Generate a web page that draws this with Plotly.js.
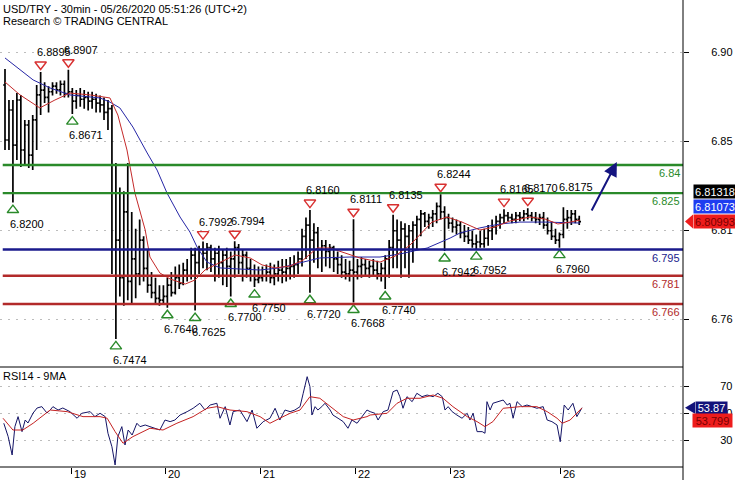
<!DOCTYPE html>
<html><head><meta charset="utf-8">
<script src="https://cdn.plot.ly/plotly-3.0.1.min.js"></script>
<style>html,body{margin:0;padding:0;background:#fff}#chart{width:735px;height:480px}</style>
</head><body><div id="chart"></div>
<script>
// ---------- DATA (hourly bars, index = bar position) ----------
const open=[6.8826,6.8533,6.8693,6.8506,6.8746,6.8480,6.8613,6.8453,6.8640,6.8773,
6.8799,6.8760,6.8790,6.8820,6.8800,6.8830,6.8780,6.8790,6.8740,6.8770,
6.8750,6.8760,6.8740,6.8750,6.8730,6.8720,6.8680,6.8700,6.7950,6.8000,
6.7800,6.8150,6.7780,6.7900,6.7820,6.8000,6.7850,6.7760,6.7720,6.7690,
6.7680,6.7700,6.7760,6.7720,6.7800,6.7770,6.7840,6.7810,6.7920,6.7880,
6.7950,6.7930,6.7960,6.7900,6.7930,6.7880,6.7920,6.7860,6.7900,6.7960,
6.7880,6.7920,6.7850,6.7810,6.7790,6.7800,6.7810,6.7830,6.7800,6.7820,
6.7840,6.7830,6.7850,6.7860,6.7870,6.7900,6.8020,6.8080,6.8000,6.8040,
6.7950,6.7970,6.7940,6.7960,6.7900,6.7870,6.7830,6.7820,6.7840,6.7830,
6.7860,6.7870,6.7850,6.7860,6.7840,6.7820,6.7850,6.7900,6.7960,6.8050,
6.8000,6.8060,6.8020,6.8050,6.8080,6.8110,6.8140,6.8100,6.8120,6.8140,
6.8180,6.8150,6.8120,6.8090,6.8070,6.8080,6.8040,6.8020,6.8000,6.7980,
6.7990,6.7980,6.8010,6.8050,6.8070,6.8100,6.8120,6.8130,6.8120,6.8110,
6.8130,6.8120,6.8140,6.8130,6.8120,6.8110,6.8120,6.8080,6.8050,6.8020,
6.8000,6.8030,6.8110,6.8120,6.8140,6.8110];
const high=[6.8911,6.8746,6.8746,6.8783,6.8773,6.8640,6.8640,6.8666,6.8826,6.8895,
6.8840,6.8820,6.8840,6.8840,6.8850,6.8850,6.8907,6.8810,6.8800,6.8810,
6.8800,6.8790,6.8790,6.8780,6.8770,6.8760,6.8746,6.8720,6.8410,6.8280,
6.8260,6.8410,6.8150,6.8060,6.8110,6.8020,6.7950,6.7830,6.7800,6.7760,
6.7760,6.7800,6.7830,6.7860,6.7870,6.7880,6.7900,6.7960,6.7960,6.7970,
6.7992,6.7985,6.7975,6.7960,6.7970,6.7950,6.7960,6.7940,6.7994,6.7980,
6.7950,6.7940,6.7900,6.7870,6.7860,6.7860,6.7870,6.7880,6.7870,6.7890,
6.7900,6.7900,6.7910,6.7920,6.7940,6.8060,6.8120,6.8160,6.8090,6.8070,
6.8000,6.8000,6.7980,6.7970,6.7940,6.7920,6.7900,6.7890,6.8111,6.7900,
6.7910,6.7900,6.7890,6.7900,6.7890,6.7880,6.7920,6.8000,6.8135,6.8110,
6.8100,6.8090,6.8080,6.8100,6.8130,6.8160,6.8150,6.8140,6.8160,6.8200,
6.8244,6.8180,6.8140,6.8120,6.8110,6.8100,6.8080,6.8070,6.8050,6.8030,
6.8050,6.8060,6.8080,6.8110,6.8130,6.8140,6.8165,6.8150,6.8140,6.8150,
6.8150,6.8160,6.8170,6.8150,6.8150,6.8140,6.8150,6.8120,6.8100,6.8060,
6.8040,6.8175,6.8160,6.8160,6.8160,6.8130];
const low=[6.8480,6.8480,6.8200,6.8427,6.8389,6.8400,6.8384,6.8373,6.8480,6.8666,
6.8730,6.8680,6.8770,6.8780,6.8770,6.8760,6.8760,6.8671,6.8700,6.8710,
6.8700,6.8690,6.8700,6.8680,6.8680,6.8640,6.8586,6.7820,6.7474,6.7700,
6.7650,6.7680,6.7660,6.7690,6.7760,6.7780,6.7720,6.7690,6.7660,6.7650,
6.7660,6.7640,6.7700,6.7710,6.7740,6.7760,6.7780,6.7790,6.7625,6.7820,
6.7850,6.7840,6.7830,6.7780,6.7800,6.7760,6.7750,6.7700,6.7800,6.7820,
6.7780,6.7800,6.7780,6.7750,6.7770,6.7780,6.7780,6.7770,6.7760,6.7780,
6.7770,6.7780,6.7790,6.7800,6.7820,6.7860,6.7900,6.7720,6.7880,6.7850,
6.7830,6.7860,6.7850,6.7830,6.7820,6.7800,6.7790,6.7780,6.7668,6.7790,
6.7800,6.7810,6.7800,6.7810,6.7790,6.7780,6.7740,6.7800,6.7850,6.7850,
6.7800,6.7850,6.7800,6.7880,6.7950,6.8020,6.8070,6.8060,6.8070,6.8090,
6.8110,6.7942,6.8060,6.8040,6.8030,6.8010,6.7990,6.7980,6.7960,6.7952,
6.7960,6.7960,6.7970,6.8000,6.8030,6.8060,6.8090,6.8100,6.8090,6.8090,
6.8100,6.8100,6.8110,6.8100,6.8090,6.8080,6.8060,6.8030,6.8000,6.7980,
6.7960,6.8010,6.8060,6.8080,6.8090,6.8080];
const close=[6.8533,6.8693,6.8506,6.8746,6.8480,6.8613,6.8453,6.8640,6.8773,6.8799,
6.8760,6.8790,6.8820,6.8800,6.8830,6.8780,6.8790,6.8740,6.8770,6.8750,
6.8760,6.8740,6.8750,6.8730,6.8720,6.8680,6.8700,6.7950,6.8000,6.7800,
6.8150,6.7780,6.7900,6.7820,6.8000,6.7850,6.7760,6.7720,6.7690,6.7680,
6.7700,6.7760,6.7720,6.7800,6.7770,6.7840,6.7810,6.7920,6.7880,6.7950,
6.7930,6.7960,6.7900,6.7930,6.7880,6.7920,6.7860,6.7900,6.7960,6.7880,
6.7920,6.7850,6.7810,6.7790,6.7800,6.7810,6.7830,6.7800,6.7820,6.7840,
6.7830,6.7850,6.7860,6.7870,6.7900,6.8020,6.8080,6.8000,6.8040,6.7950,
6.7970,6.7940,6.7960,6.7900,6.7870,6.7830,6.7820,6.7840,6.7830,6.7860,
6.7870,6.7850,6.7860,6.7840,6.7820,6.7850,6.7900,6.7960,6.8050,6.8000,
6.8060,6.8020,6.8050,6.8080,6.8110,6.8140,6.8100,6.8120,6.8140,6.8180,
6.8150,6.8120,6.8090,6.8070,6.8080,6.8040,6.8020,6.8000,6.7980,6.7990,
6.7980,6.8010,6.8050,6.8070,6.8100,6.8120,6.8130,6.8120,6.8110,6.8130,
6.8120,6.8140,6.8130,6.8120,6.8110,6.8120,6.8080,6.8050,6.8020,6.8000,
6.8030,6.8110,6.8120,6.8140,6.8110,6.8099];

// moving averages on price
const redMaX=[0,3.8,8.8,12.6,16.4,21.5,26.5,28.5,30.8,32.8,35.4,36.6,39.1,41.7,45.5,48,50.5,54.3,58.1,61.9,64.9,68.2,72,75.3,78.8,82.1,85.9,89.6,94.7,98.5,102.3,104.8,107.8,111.6,115.4,119.9,123.7,127.5,132.6,136.4,139.6,142.7,145.2];
const redMaY=[6.8842,6.8773,6.8704,6.8746,6.8783,6.8773,6.8757,6.8666,6.8480,6.8251,6.8054,6.7910,6.7825,6.7793,6.7766,6.7788,6.7841,6.7883,6.7921,6.7905,6.7868,6.7852,6.7862,6.7894,6.7958,6.7958,6.7931,6.7905,6.7883,6.7915,6.7974,6.8027,6.8096,6.8123,6.8096,6.8054,6.8070,6.8102,6.8123,6.8112,6.8086,6.8096,6.8107];
const blueMaX=[0,7.1,11.4,16.4,24,26.5,29,32.3,35.9,38.4,40.9,44.2,46.7,48.5,51,54.3,59.3,64.4,69.4,74.5,79.5,87.1,94.7,99.7,104.8,106.6,112.4,114.9,119.9,125,130,136.4,145.2];
const blueMaY=[6.8970,6.8853,6.8810,6.8773,6.8757,6.8735,6.8704,6.8602,6.8464,6.8373,6.8251,6.8123,6.8043,6.7963,6.7883,6.7852,6.7846,6.7841,6.7852,6.7878,6.7905,6.7910,6.7910,6.7926,6.7947,6.7958,6.8011,6.8038,6.8065,6.8086,6.8096,6.8096,6.8091];

// RSI14 and its 9MA
const rsiX=[-0.3,0.8,1.8,2.5,3.3,4.3,5.1,5.8,7.1,8.1,9.3,10.6,11.4,12.1,13.4,14.6,16.4,18.2,19.4,21.5,22.7,24,25.3,26,27,27.8,28.5,29.5,30.3,31.1,32.1,33.3,34.1,35.4,36.6,37.9,39.1,40.4,41.7,42.9,44.2,46,47.5,49.2,50.5,51.8,53.5,54.3,55.6,56.8,57.6,59.3,61.1,62.4,63.6,65.2,66.9,68.2,69.4,70.7,72,73.2,74.5,75.3,76.3,77,77.5,78.3,79,80,80.8,82.1,82.8,84.1,85.4,86.6,87.6,88.9,90.2,91.4,92.2,93.4,94.2,95.5,96.7,98,99,99.7,100.5,101.5,102.8,104,105.3,106.6,108.1,109.3,110.4,111.1,111.9,112.9,114.1,115.4,116.7,117.4,118.2,119.2,120.5,121.2,121.7,122.5,123.2,124.5,125.8,126.8,127.5,128.3,129.3,130.6,131.8,133.1,134.3,135.9,136.9,138.1,139.4,140.2,140.9,141.2,142.2,143.4,144.4,145.7];
const rsiY=[42.4,32.5,18.9,39.9,47.3,36.2,44.8,42.6,50,53.7,54.7,50,52.2,54.7,52.2,53.7,51,46.1,49.8,51,47.3,49.8,47.3,35,25,11.5,32.5,39.9,26.3,37.4,33.7,42.4,39.9,41.1,39.9,38.7,37.4,44.8,43.6,44.8,48.5,51,53.5,57.2,52.2,55.9,57.2,46.1,54.7,41.1,51,52.2,43.6,52.2,38.7,43.6,46.1,53.5,44.8,52.2,51,52.2,54.7,64.6,76.9,69.5,48.5,54.7,52.2,54.7,57.2,52.2,48.5,46.1,43.6,38.7,44.8,42.4,47.3,52.2,51,49.8,44.8,51,52.2,65.8,67,62.1,53.5,62.1,58.4,64.6,62.1,63.3,62.1,64.6,62.1,52.2,54.7,51,48.5,46.1,49.8,44.8,49.8,36.2,36.2,35,58.4,52.2,57.2,58.4,59.6,55.9,57.2,46.1,58.4,54.7,55.9,54.7,53.5,54.7,44.8,43.6,41.1,28.7,44.8,55.9,52.2,57.2,47.3,53.87];
const rsiMaX=[-0.5,2,4.5,7.1,11.4,15.7,19.7,24,25.8,27.8,29.8,32.3,36.6,39.9,43.4,47.5,51,53.5,56.8,61.1,64.4,66.9,69.4,72,74.5,77,79.5,82.1,85.4,87.9,91.4,92.2,96.5,99,101.5,104.8,108.1,110.6,113.1,116.7,119.2,121.2,123.2,125.8,130.1,134.3,136.9,139.4,140.7,142.7,145.7];
const rsiMaY=[46.1,37.4,37.4,42.4,52.2,51,47.3,47.3,46.1,36.2,27.6,32.5,38.7,37.4,42.4,47.3,53.5,54.7,52.2,51,47.3,42.4,46.1,49.8,52.2,62.1,60.9,54.7,47.3,44.8,47.3,48.5,49.8,57.2,60.9,60.9,63.3,60.9,54.7,47.3,43.6,39.9,43.6,53.5,54.7,54.7,51,46.1,42.4,44.8,53.799];

// pivots
const highPivX=[9,16,50,58,77,88,98,110,126,132];
const highPivY=[6.8895,6.8907,6.7992,6.7994,6.8160,6.8111,6.8135,6.8244,6.8165,6.8170];
const highNoMarkX=[141];
const highNoMarkY=[6.8175];
const lowPivX=[2,17,28,41,48,57,63,77,88,96,111,119,140];
const lowPivY=[6.8200,6.8671,6.7474,6.7640,6.7625,6.7700,6.7750,6.7720,6.7668,6.7740,6.7942,6.7952,6.7960];

// key levels
const levels=[6.84,6.825,6.795,6.781,6.766];
const levelLabels=['6.84','6.825','6.795','6.781','6.766'];

// axes labels
const dayTickPos=[16.7,40.4,64.4,88.4,112.4,140.2];
const dayLabels=['19','20','21','22','23','26'];
const priceTickVals=[6.9,6.8526,6.8052,6.7578];
const priceTickText=['6.90','6.85','6.81','6.76'];
const rsiTickVals=[30,50,70];
const rsiTickText=['30','50','70'];

// right-side value boxes
const boxValues=['6.81318','6.81073','6.80993'];
const lastClose=6.80993;
const rsiBoxValues=['53.87','53.799'];
const rsiLast=53.87, rsiMaLast=53.799;

// ---------- LAYOUT CONSTANTS ----------
const FONT='Arial, "Liberation Sans", sans-serif';
const mainBottom=100/467;
const yRange=[6.73244,6.92786];
const rsiRange=[10,84.07];
const xRange=[-1.263,171.2];
const pu=(yRange[1]-yRange[0])/367;      // price per pixel
const px=p=>1+p/683;                      // paper x for pixels right of plot

const GREEN='#2a8a2a', RED='#b22a2a', NAVY='#1a1a8c';
const levelColors=[GREEN,GREEN,NAVY,RED,RED];

const idx=close.map((_,i)=>i);

const traces=[
 {type:'ohlc',x:idx,open:open,high:high,low:low,close:close,xaxis:'x',yaxis:'y',
  increasing:{line:{color:'#000',width:1.7}},decreasing:{line:{color:'#000',width:1.7}},
  tickwidth:0.45,hoverinfo:'skip',showlegend:false},
 {type:'scatter',mode:'lines',x:blueMaX,y:blueMaY,xaxis:'x',yaxis:'y',line:{color:'#2626a6',width:1},hoverinfo:'skip'},
 {type:'scatter',mode:'lines',x:redMaX,y:redMaY,xaxis:'x',yaxis:'y',line:{color:'#c42a2a',width:1},hoverinfo:'skip'},
 {type:'scatter',mode:'markers',x:highPivX,y:highPivY.map(v=>v+7.5*pu),xaxis:'x',yaxis:'y',
  marker:{symbol:'triangle-down-open',size:10,color:'#d83030',line:{width:1.4}},hoverinfo:'skip'},
 {type:'scatter',mode:'markers',x:lowPivX,y:lowPivY.map(v=>v-7.5*pu),xaxis:'x',yaxis:'y',
  marker:{symbol:'triangle-up-open',size:10,color:GREEN,line:{width:1.4}},hoverinfo:'skip'},
 {type:'scatter',mode:'lines',x:rsiX,y:rsiY,xaxis:'x2',yaxis:'y2',line:{color:'#141466',width:1},hoverinfo:'skip'},
 {type:'scatter',mode:'lines',x:rsiMaX,y:rsiMaY,xaxis:'x2',yaxis:'y2',line:{color:'#c42222',width:1},hoverinfo:'skip'}
];

const annotations=[];
const txt=(o)=>Object.assign({showarrow:false,font:{family:FONT,size:11,color:'#000'}},o);
annotations.push(txt({xref:'paper',yref:'paper',x:0,y:1,xanchor:'left',yanchor:'top',xshift:1,yshift:-1,text:'USD/TRY - 30min - 05/26/2020 05:51:26 (UTC+2)'}));
annotations.push(txt({xref:'paper',yref:'paper',x:0,y:1,xanchor:'left',yanchor:'top',xshift:1,yshift:-13,text:'Research © TRADING CENTRAL'}));
annotations.push(txt({xref:'paper',yref:'paper',x:0,y:mainBottom,xanchor:'left',yanchor:'top',xshift:1,yshift:-1,text:'RSI14 - 9MA'}));
highPivX.forEach((x,k)=>annotations.push(txt({xref:'x',yref:'y',x:x,y:highPivY[k],xanchor:'left',yanchor:'middle',xshift:-6,yshift:20,text:highPivY[k].toFixed(4)})));
highNoMarkX.forEach((x,k)=>annotations.push(txt({xref:'x',yref:'y',x:x,y:highNoMarkY[k],xanchor:'left',yanchor:'middle',xshift:-6,yshift:20,text:highNoMarkY[k].toFixed(4)})));
lowPivX.forEach((x,k)=>annotations.push(txt({xref:'x',yref:'y',x:x,y:lowPivY[k],xanchor:'left',yanchor:'middle',xshift:-5,yshift:-21,text:lowPivY[k].toFixed(4)})));
levels.forEach((v,k)=>annotations.push(txt({xref:'paper',yref:'y',x:1,y:v,xanchor:'right',yanchor:'middle',xshift:-1,yshift:-8,text:levelLabels[k],font:{family:FONT,size:11,color:levelColors[k]}})));
dayTickPos.forEach((x,k)=>annotations.push(txt({xref:'x2',yref:'paper',x:x,y:0,xanchor:'left',yanchor:'middle',xshift:1,yshift:-7,text:dayLabels[k]})));
// value boxes
const boxBg=['#000000','#1e3cf0','#ee1c1c'], boxFg=['#ffffff','#ffffff','#7a0000'], boxShift=[29.5,15,0];
boxValues.forEach((t,k)=>annotations.push({xref:'paper',yref:'y',x:1,y:lastClose,xanchor:'left',yanchor:'middle',xshift:10,yshift:boxShift[k],
  text:t,showarrow:false,bgcolor:boxBg[k],borderpad:0,width:42,height:13,font:{family:FONT,size:11,color:boxFg[k]}}));
annotations.push({xref:'paper',yref:'y2',x:1,y:rsiLast,xanchor:'left',yanchor:'middle',xshift:12,text:rsiBoxValues[0],showarrow:false,
  bgcolor:'#12127a',borderpad:0,width:31,height:12,font:{family:FONT,size:11,color:'#fff'}});
annotations.push({xref:'paper',yref:'y2',x:1,y:rsiMaLast,xanchor:'left',yanchor:'middle',xshift:9,yshift:-13,text:rsiBoxValues[1],showarrow:false,
  bgcolor:'#ee1c1c',borderpad:0,width:39,height:13,font:{family:FONT,size:11,color:'#7a0000'}});
// forecast arrow
annotations.push({xref:'x',yref:'y',x:154.5,y:6.8416,ax:-26,ay:50,text:'',showarrow:true,arrowhead:2,arrowsize:1.4,arrowwidth:2,arrowcolor:'#141480'});

const shapes=[];
levels.forEach((v,k)=>shapes.push({type:'line',xref:'paper',yref:'y',x0:0.004,x1:1,y0:v,y1:v,layer:'above',line:{color:levelColors[k],width:2.4}}));
shapes.push({type:'line',xref:'paper',yref:'paper',x0:0,x1:1,y0:mainBottom,y1:mainBottom,line:{color:'#000',width:1}});
shapes.push({type:'line',xref:'paper',yref:'paper',x0:0,x1:1,y0:0,y1:0,line:{color:'#000',width:1}});
shapes.push({type:'line',xref:'paper',yref:'paper',x0:1,x1:1,y0:-0.03,y1:1,line:{color:'#000',width:1}});
shapes.push({type:'path',xref:'paper',yref:'y',path:`M ${px(2)},${lastClose} L ${px(10)},${lastClose+7*pu} L ${px(10)},${lastClose-7*pu} Z`,fillcolor:'#ee1c1c',line:{width:0}});
const ru=(rsiRange[1]-rsiRange[0])/100;
shapes.push({type:'path',xref:'paper',yref:'y2',path:`M ${px(2)},${rsiLast} L ${px(12)},${rsiLast+6*ru} L ${px(12)},${rsiLast-6*ru} Z`,fillcolor:'#12127a',line:{width:0}});

const layout={
 width:735,height:480,margin:{l:0,r:52,t:0,b:13},
 paper_bgcolor:'#fff',plot_bgcolor:'#fff',showlegend:false,hovermode:false,
 font:{family:FONT,size:11,color:'#000'},
 xaxis:{domain:[0,1],range:xRange,anchor:'y',showticklabels:false,ticks:'',showgrid:false,zeroline:false,showline:false,rangeslider:{visible:false},fixedrange:true},
 xaxis2:{domain:[0,1],range:xRange,anchor:'y2',tickmode:'array',tickvals:dayTickPos,ticks:'outside',ticklen:6,tickcolor:'#000',tickwidth:1,showticklabels:false,showgrid:false,zeroline:false,showline:false},
 yaxis:{domain:[mainBottom,1],range:yRange,anchor:'x',side:'right',tickmode:'array',tickvals:priceTickVals,ticktext:priceTickText,
   ticks:'outside',ticklen:5,tickcolor:'#000',showgrid:true,gridcolor:'#bdbdbd',griddash:'2px,6px',zeroline:false,showline:false,ticklabelstandoff:20,tickfont:{size:11,color:'#000'}},
 yaxis2:{domain:[0,mainBottom],range:rsiRange,anchor:'x2',side:'right',tickmode:'array',tickvals:rsiTickVals,ticktext:rsiTickText,
   ticks:'outside',ticklen:5,tickcolor:'#000',showgrid:true,gridcolor:'#bdbdbd',griddash:'2px,6px',zeroline:false,showline:false,ticklabelstandoff:29,tickfont:{size:11,color:'#000'}},
 annotations:annotations,shapes:shapes
};
Plotly.newPlot('chart',traces,layout,{staticPlot:true,displayModeBar:false});
</script></body></html>
